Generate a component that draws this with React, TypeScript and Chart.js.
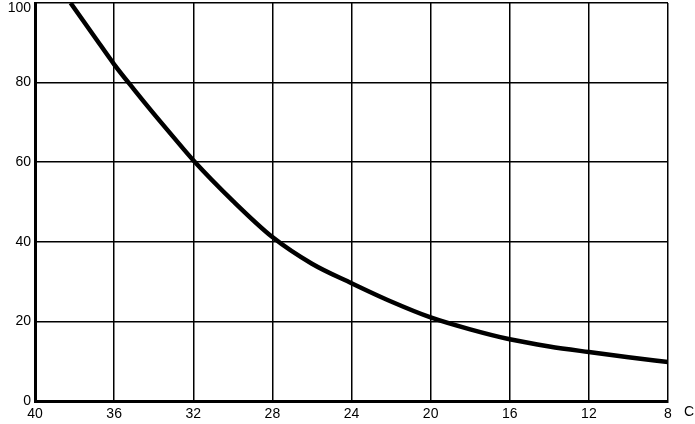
import React, { useEffect, useRef } from "react";
import { Chart, registerables } from "chart.js";

Chart.register(...registerables);

const temperatures = [38.2, 37, 36, 35, 34, 33, 32, 30, 28, 26, 24, 22, 20, 18, 16, 14, 12, 10, 8];
const values = [100, 91.6, 84.6, 78.3, 72.2, 66.3, 60.5, 50.3, 41.2, 34.5, 29.6, 25, 21, 18, 15.5, 13.7, 12.3, 11, 9.8];
const xTicks = [40, 36, 32, 28, 24, 20, 16, 12, 8];
const yTicks = [0, 20, 40, 60, 80, 100];
const unitLabel = "C";
const FONT = "14px 'Liberation Sans', Arial, sans-serif";

export default function App() {
  const ref = useRef<HTMLCanvasElement>(null);
  useEffect(() => {
    if (!ref.current) return;
    const labelPlugin = {
      id: "labels",
      afterDraw(chart: any) {
        const ctx = chart.ctx;
        const area = chart.chartArea;
        const y = chart.scales.y;
        ctx.save();
        ctx.fillStyle = "#000";
        ctx.font = FONT;
        ctx.textAlign = "right";
        ctx.textBaseline = "middle";
        yTicks.forEach((v) => {
          const py = Math.max(y.getPixelForValue(v), 8);
          ctx.fillText(String(v), area.left - 4, py);
        });
        ctx.textAlign = "center";
        ctx.fillText(unitLabel, area.right + 21, area.bottom + 11);
        ctx.restore();
      },
    };
    const chart = new Chart(ref.current, {
      type: "line",
      data: {
        datasets: [
          {
            data: temperatures.map((t, i) => ({ x: t, y: values[i] })),
            borderColor: "#000",
            borderWidth: 4.5,
            pointRadius: 0,
            cubicInterpolationMode: "monotone",
            fill: false,
          },
        ],
      },
      options: {
        animation: false,
        responsive: false,
        maintainAspectRatio: false,
        layout: { padding: { top: 3, right: 27, left: 0, bottom: 0 } },
        plugins: { legend: { display: false }, tooltip: { enabled: false } },
        scales: {
          x: {
            type: "linear",
            reverse: true,
            min: 8,
            max: 40,
            afterBuildTicks: (axis: any) => {
              axis.ticks = xTicks.map((v) => ({ value: v }));
            },
            afterFit: (axis: any) => {
              axis.height = 23;
              axis.paddingLeft = 0;
              axis.paddingRight = 0;
            },
            grid: { color: "#000", lineWidth: 1.5, drawTicks: false },
            border: { color: "#000", width: 3 },
            ticks: {
              color: "#000",
              padding: 5,
              maxRotation: 0,
              autoSkip: false,
              font: { family: "'Liberation Sans', Arial, sans-serif", size: 14 },
            },
          },
          y: {
            min: 0,
            max: 100,
            afterBuildTicks: (axis: any) => {
              axis.ticks = yTicks.map((v) => ({ value: v }));
            },
            afterFit: (axis: any) => {
              axis.width = 35;
              axis.paddingTop = 0;
              axis.paddingBottom = 0;
            },
            grid: { color: "#000", lineWidth: 1.5, drawTicks: false },
            border: { color: "#000", width: 3 },
            ticks: { display: false },
          },
        },
      },
      plugins: [labelPlugin],
    } as any);
    return () => chart.destroy();
  }, []);
  return (
    <div style={{ position: "absolute", left: 0, top: 0, width: 695, height: 424, background: "#fff" }}>
      <canvas ref={ref} width={695} height={424} style={{ width: 695, height: 424 }} />
    </div>
  );
}
